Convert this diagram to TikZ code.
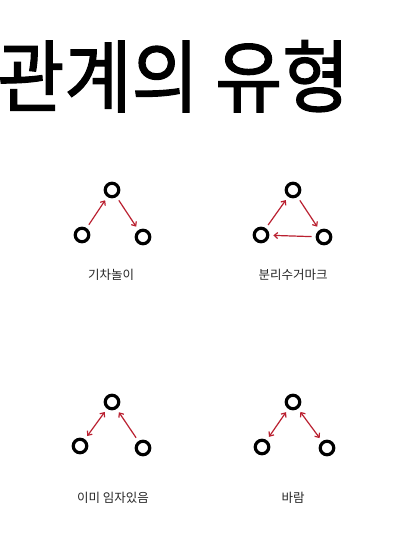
\documentclass[tikz,border=0pt]{standalone}
\usepackage{fontspec}
\newfontfamily\kr{Noto Sans CJK KR}
\newfontfamily\krhead[FakeBold=1.6]{Noto Sans CJK KR}
\usepackage{tikz}
\usetikzlibrary{positioning}
\usetikzlibrary{arrows.meta}
\definecolor{arrowred}{RGB}{186,32,48}

\begin{document}
\begin{tikzpicture}[x=1pt, y=-1pt,
				person/.style={draw, circle, line width=3.2pt, minimum size=13.5pt, inner sep=0pt},
				rel/.style={draw=arrowred, line width=1.2pt, shorten >=4pt, shorten <=4pt, >={Straight Barb[length=3.5pt, width=6pt]}},
				tag/.style={font=\kr\fontsize{12.5}{14}\selectfont, text=black!85, inner sep=0pt}]
				\fill[white] (0,0) rectangle (414,552);
				\useasboundingbox (0,0) rectangle (414,552);
				
				\node[anchor=base west, inner sep=0pt, yscale=1.08, font=\krhead\fontsize{73}{73}\selectfont](title) at (-70, 106) {각관계의 유형};
				
				% 기차놀이
				\node[person](t1) at (112, 190) {};
				\node[person](l1) at (82, 235) {};
				\node[person](r1) at (143, 237) {};
				\node[tag](lab1) at (111, 275) {기차놀이};
				\draw[->, rel] (l1) edge (t1);
				\draw[->, rel] (t1) edge (r1);
				
				% 분리수거마크
				\node[person](t2) at (293, 190) {};
				\node[person](l2) at (261, 235) {};
				\node[person](r2) at (324, 237) {};
				\node[tag](lab2) at (293, 275) {분리수거마크};
				\draw[->, rel] (l2) edge (t2);
				\draw[->, rel] (t2) edge (r2);
				\draw[->, rel] (r2) edge (l2);
				
				% 이미 임자있음
				\node[person](t3) at (112, 402) {};
				\node[person](l3) at (80, 446) {};
				\node[person](r3) at (143, 448) {};
				\node[tag](lab3) at (113, 498) {이미 임자있음};
				\draw[<->, rel] (l3) edge (t3);
				\draw[->, rel] (r3) edge (t3);
				
				% 바람
				\node[person](t4) at (293, 402) {};
				\node[person](l4) at (262, 447) {};
				\node[person](r4) at (327, 448) {};
				\node[tag](lab4) at (293, 498) {바람};
				\draw[<->, rel] (l4) edge (t4);
				\draw[<->, rel] (t4) edge (r4);
				
			\end{tikzpicture}
\end{document}
